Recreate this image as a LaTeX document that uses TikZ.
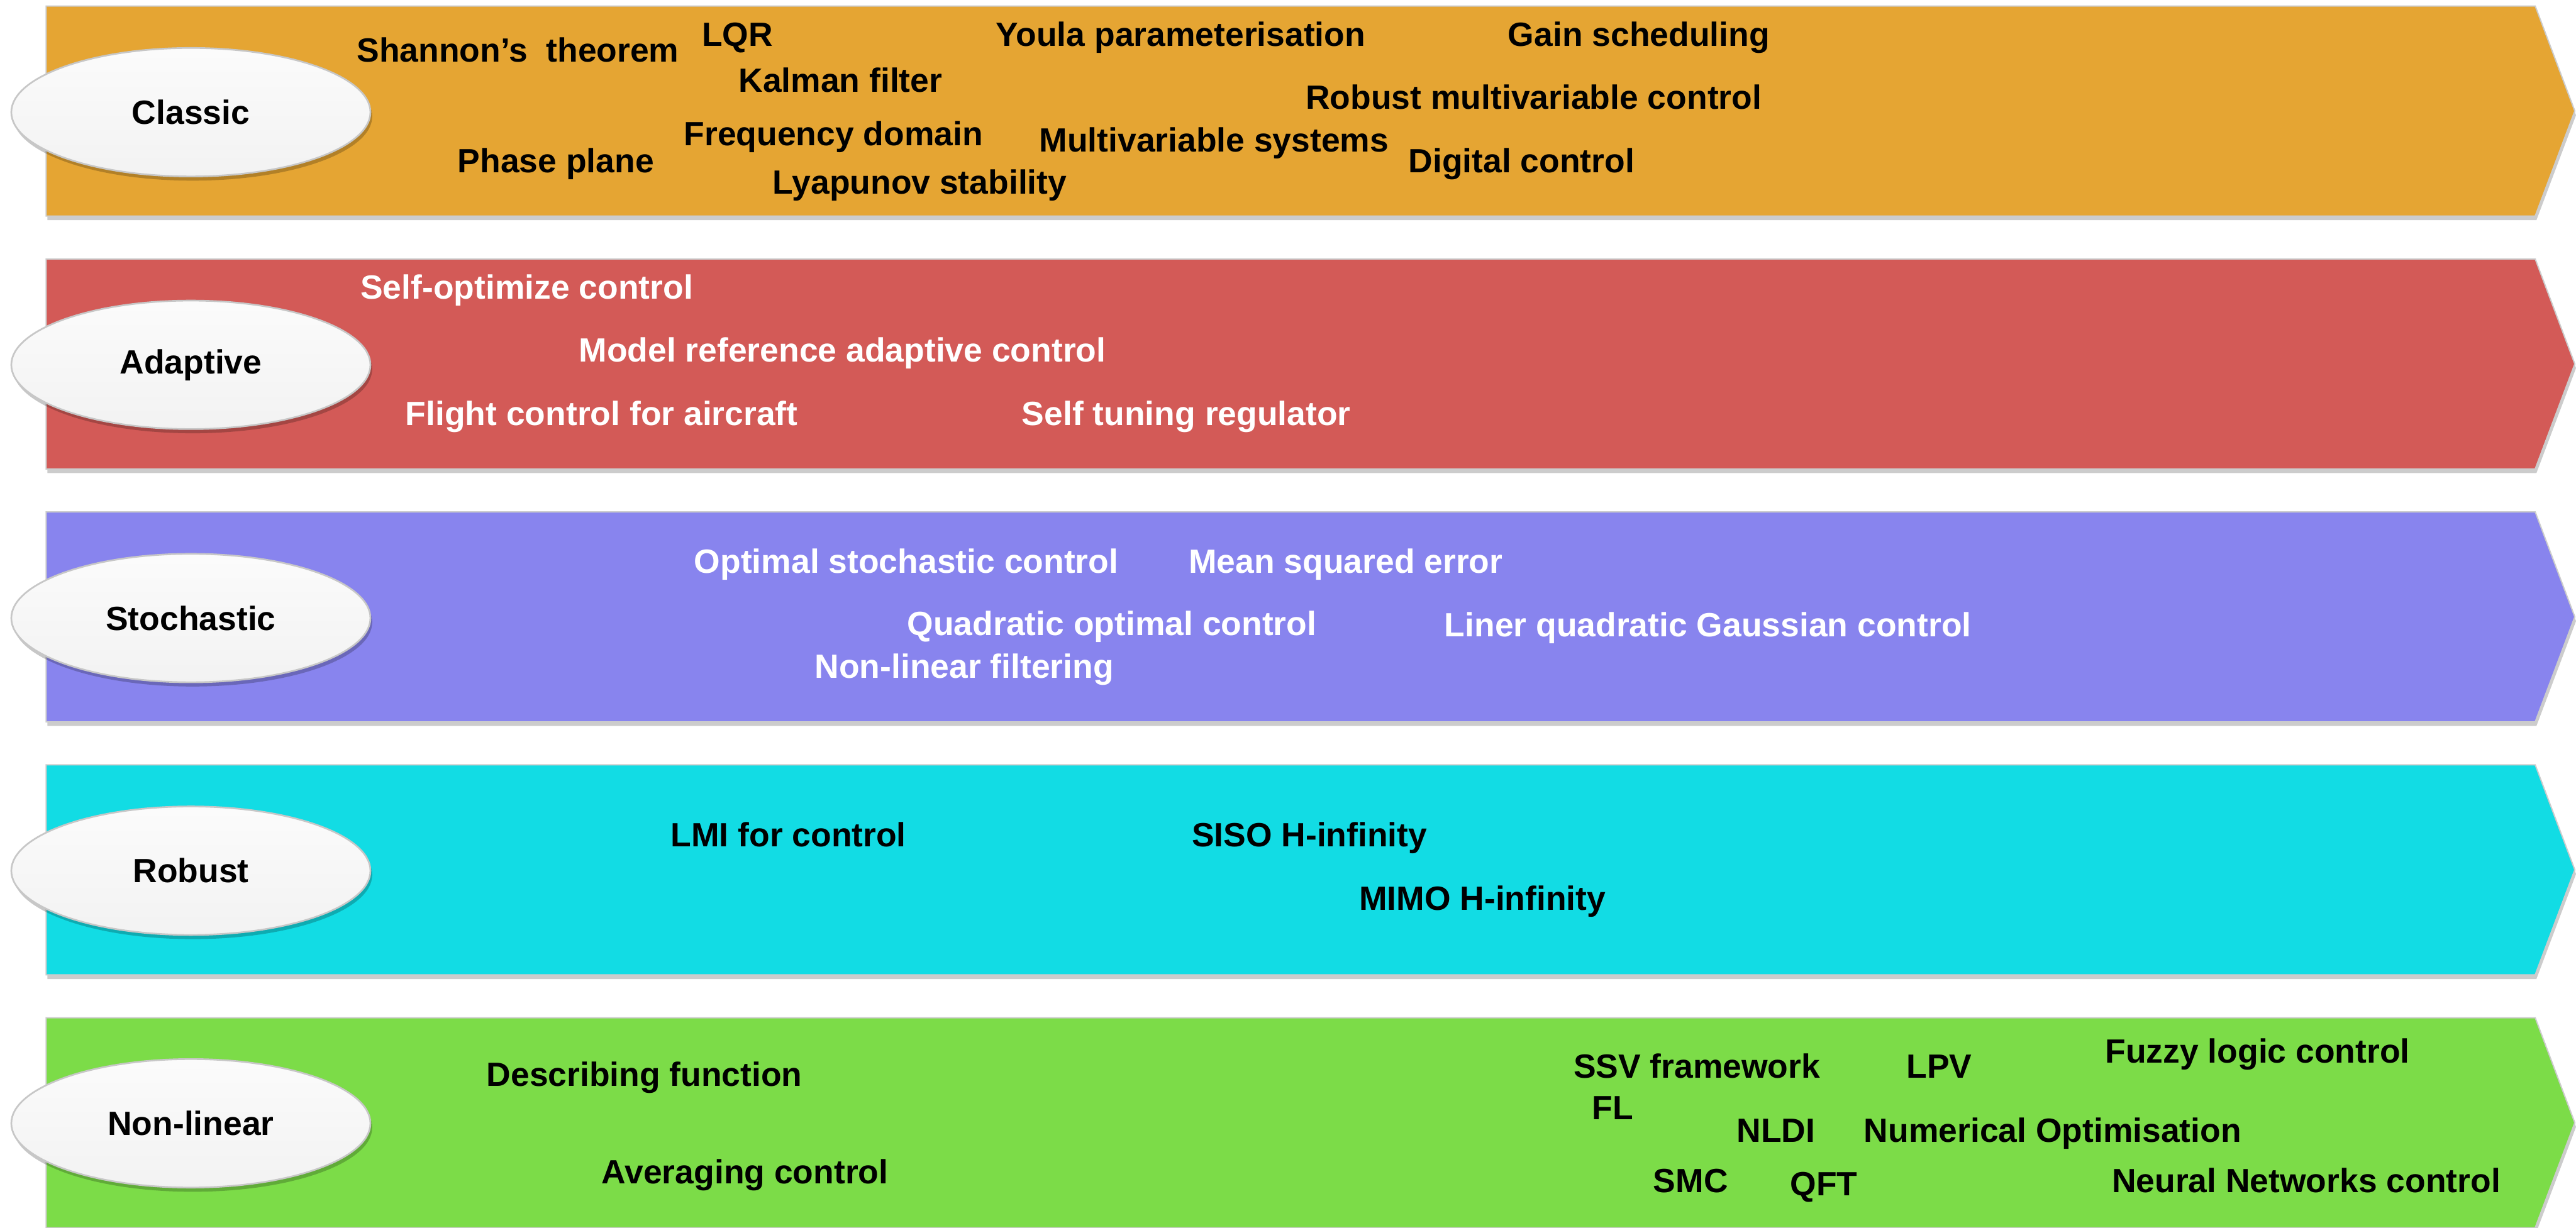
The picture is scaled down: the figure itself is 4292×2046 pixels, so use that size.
\documentclass[tikz,border=0pt]{standalone}
\usepackage{fontspec}
\setmainfont{Liberation Sans}
\usetikzlibrary{shapes.geometric,shadows}

\definecolor{classicC}{HTML}{E5A533}
\definecolor{adaptC}{HTML}{D35A57}
\definecolor{stochC}{HTML}{8884EE}
\definecolor{robustC}{HTML}{12DCE4}
\definecolor{nonlinC}{HTML}{7CDC48}

\tikzset{
  band/.style={draw=black!20, line width=0.6pt,
    drop shadow={shadow xshift=0.02cm, shadow yshift=-0.07cm, opacity=0.2, fill=black}},
  cat/.style={ellipse, draw=black!22, line width=0.8pt,
    top color=white!98.5!black, bottom color=white!95!black,
    minimum width=5.98cm, minimum height=2.14cm, inner sep=0pt,
    font=\bfseries\fontsize{15.93}{18}\selectfont,
    drop shadow={shadow xshift=0.03cm, shadow yshift=-0.07cm, opacity=0.22, fill=black}},
  lbl/.style={anchor=base west, inner sep=0pt, font=\bfseries\fontsize{15.93}{18}\selectfont},
  dark/.style={lbl, text=black},
  light/.style={lbl, text=white}
}

\begin{document}
\begin{tikzpicture}[x=0.01cm, y=-0.01cm]
\useasboundingbox (0,0) rectangle (4292,2046);

% five arrow-shaped bands
\foreach \t/\c in {10/classicC, 431.5/adaptC, 853/stochC, 1274.5/robustC, 1696/nonlinC} {
  \pgfmathsetmacro\m{\t+175}
  \pgfmathsetmacro\b{\t+350}
  \draw[band, fill=\c] (77,\t) -- (4224,\t) -- (4290,\m) -- (4224,\b) -- (77,\b) -- cycle;
}

% category ellipses
\node[cat] (classic)    at (318,187)    {Classic};
\node[cat] (adaptive)   at (318,608)    {Adaptive};
\node[cat] (stochastic) at (318,1030)   {Stochastic};
\node[cat] (robust)     at (318,1451)   {Robust};
\node[cat] (nonlinear)  at (318,1872)   {Non-linear};

% Classic
\node[dark] (shannon) at (594,103)  {Shannon’s\ \ theorem};
\node[dark] (lqr)     at (1169,77)  {LQR};
\node[dark] (youla)   at (1659,77)  {Youla parameterisation};
\node[dark] (gain)    at (2512,77)  {Gain scheduling};
\node[dark] (kalman)  at (1230,154) {Kalman filter};
\node[dark] (rmc)     at (2175,182) {Robust multivariable control};
\node[dark] (freq)    at (1139,243) {Frequency domain};
\node[dark] (mvs)     at (1731,253) {Multivariable systems};
\node[dark] (phase)   at (762,288)  {Phase plane};
\node[dark] (digital) at (2346,288) {Digital control};
\node[dark] (lyap)    at (1287,323) {Lyapunov stability};

% Adaptive
\node[light] (selfopt) at (600,498)  {Self-optimize control};
\node[light] (mrac)    at (964,603)  {Model reference adaptive control};
\node[light] (flight)  at (675,709)  {Flight control for aircraft};
\node[light] (str)     at (1702,709) {Self tuning regulator};

% Stochastic
\node[light] (osc)  at (1156,955)  {Optimal stochastic control};
\node[light] (mse)  at (1980,955)  {Mean squared error};
\node[light] (qoc)  at (1511,1059) {Quadratic optimal control};
\node[light] (lqg)  at (2406,1061) {Liner quadratic Gaussian control};
\node[light] (nlf)  at (1357,1130) {Non-linear filtering};

% Robust
\node[dark] (lmi)  at (1117,1411) {LMI for control};
\node[dark] (siso) at (1985,1411) {SISO H-infinity};
\node[dark] (mimo) at (2264,1517) {MIMO H-infinity};

% Non-linear
\node[dark] (descr)  at (810,1810)  {Describing function};
\node[dark] (avg)    at (1002,1973) {Averaging control};
\node[dark] (ssv)    at (2621,1797) {SSV framework};
\node[dark] (lpv)    at (3176,1797) {LPV};
\node[dark] (fuzzy)  at (3507,1771) {Fuzzy logic control};
\node[dark] (fl)     at (2652,1866) {FL};
\node[dark] (nldi)   at (2893,1903) {NLDI};
\node[dark] (numopt) at (3105,1903) {Numerical Optimisation};
\node[dark] (smc)    at (2754,1987) {SMC};
\node[dark] (qft)    at (2982,1993) {QFT};
\node[dark] (nn)     at (3518,1987) {Neural Networks control};
\end{tikzpicture}
\end{document}
